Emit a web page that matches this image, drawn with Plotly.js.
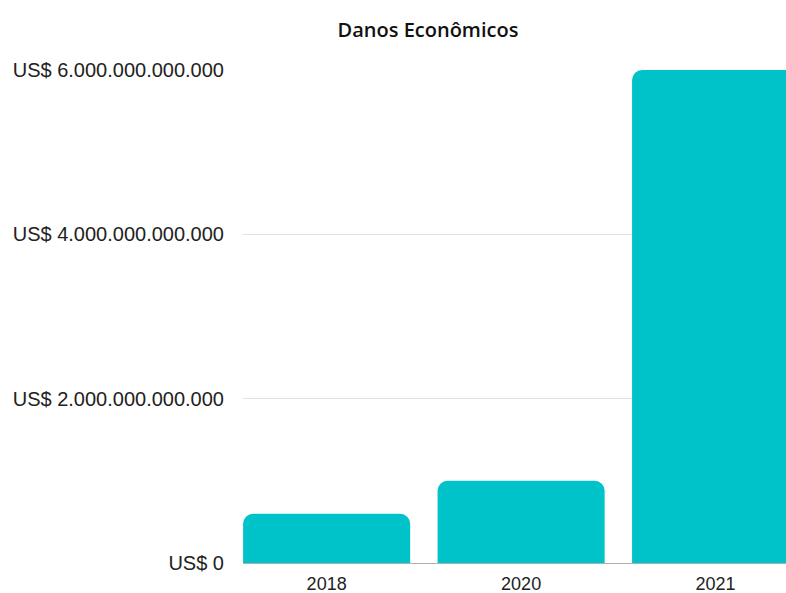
<!DOCTYPE html>
<html>
<head>
<meta charset="utf-8">
<script src="https://cdn.plot.ly/plotly-3.0.1.min.js"></script>
<style>html,body{margin:0;padding:0;background:#fff;overflow:hidden;}</style>
</head>
<body>
<div id="chart" style="width:786px;height:593px;"></div>
<script>
const categories = ["2018", "2020", "2021"];
const values = [0.6e12, 1.0e12, 6.0e12];
const tickValues = [0, 2e12, 4e12, 6e12];
const tickLabels = ["US$ 0", "US$ 2.000.000.000.000", "US$ 4.000.000.000.000", "US$ 6.000.000.000.000"];

const trace = {
  type: "bar",
  x: categories,
  y: values,
  marker: {color: "#00c3ca", cornerradius: 10},
  hoverinfo: "none"
};

const layout = {
  width: 786,
  height: 593,
  margin: {l: 243, r: 0, t: 70, b: 30},
  paper_bgcolor: "#ffffff",
  plot_bgcolor: "#ffffff",
  bargap: 0.141,
  showlegend: false,
  title: {
    text: "Danos Econômicos",
    font: {family: "Open Sans", size: 20, color: "#111111", weight: 600},
    xref: "container", x: 0.5445, xanchor: "center",
    yref: "container", y: 0.949, yanchor: "middle"
  },
  xaxis: {
    type: "category",
    range: [-0.43, 2.362],
    showgrid: false,
    showline: true,
    linecolor: "#b0b0b0",
    linewidth: 1,
    ticks: "outside",
    ticklen: 4,
    tickcolor: "rgba(0,0,0,0)",
    tickfont: {family: "Liberation Sans", size: 18, color: "#222222"},
    fixedrange: true
  },
  yaxis: {
    range: [0, 6e12],
    tickvals: tickValues,
    ticktext: tickLabels,
    showgrid: true,
    gridcolor: "#e2e2e2",
    gridwidth: 1,
    zeroline: false,
    showline: false,
    ticks: "outside",
    ticklen: 14,
    tickcolor: "rgba(0,0,0,0)",
    tickfont: {family: "Liberation Sans", size: 20, color: "#222222"},
    fixedrange: true
  }
};

Plotly.newPlot("chart", [trace], layout, {displayModeBar: false, staticPlot: true});
</script>
</body>
</html>
